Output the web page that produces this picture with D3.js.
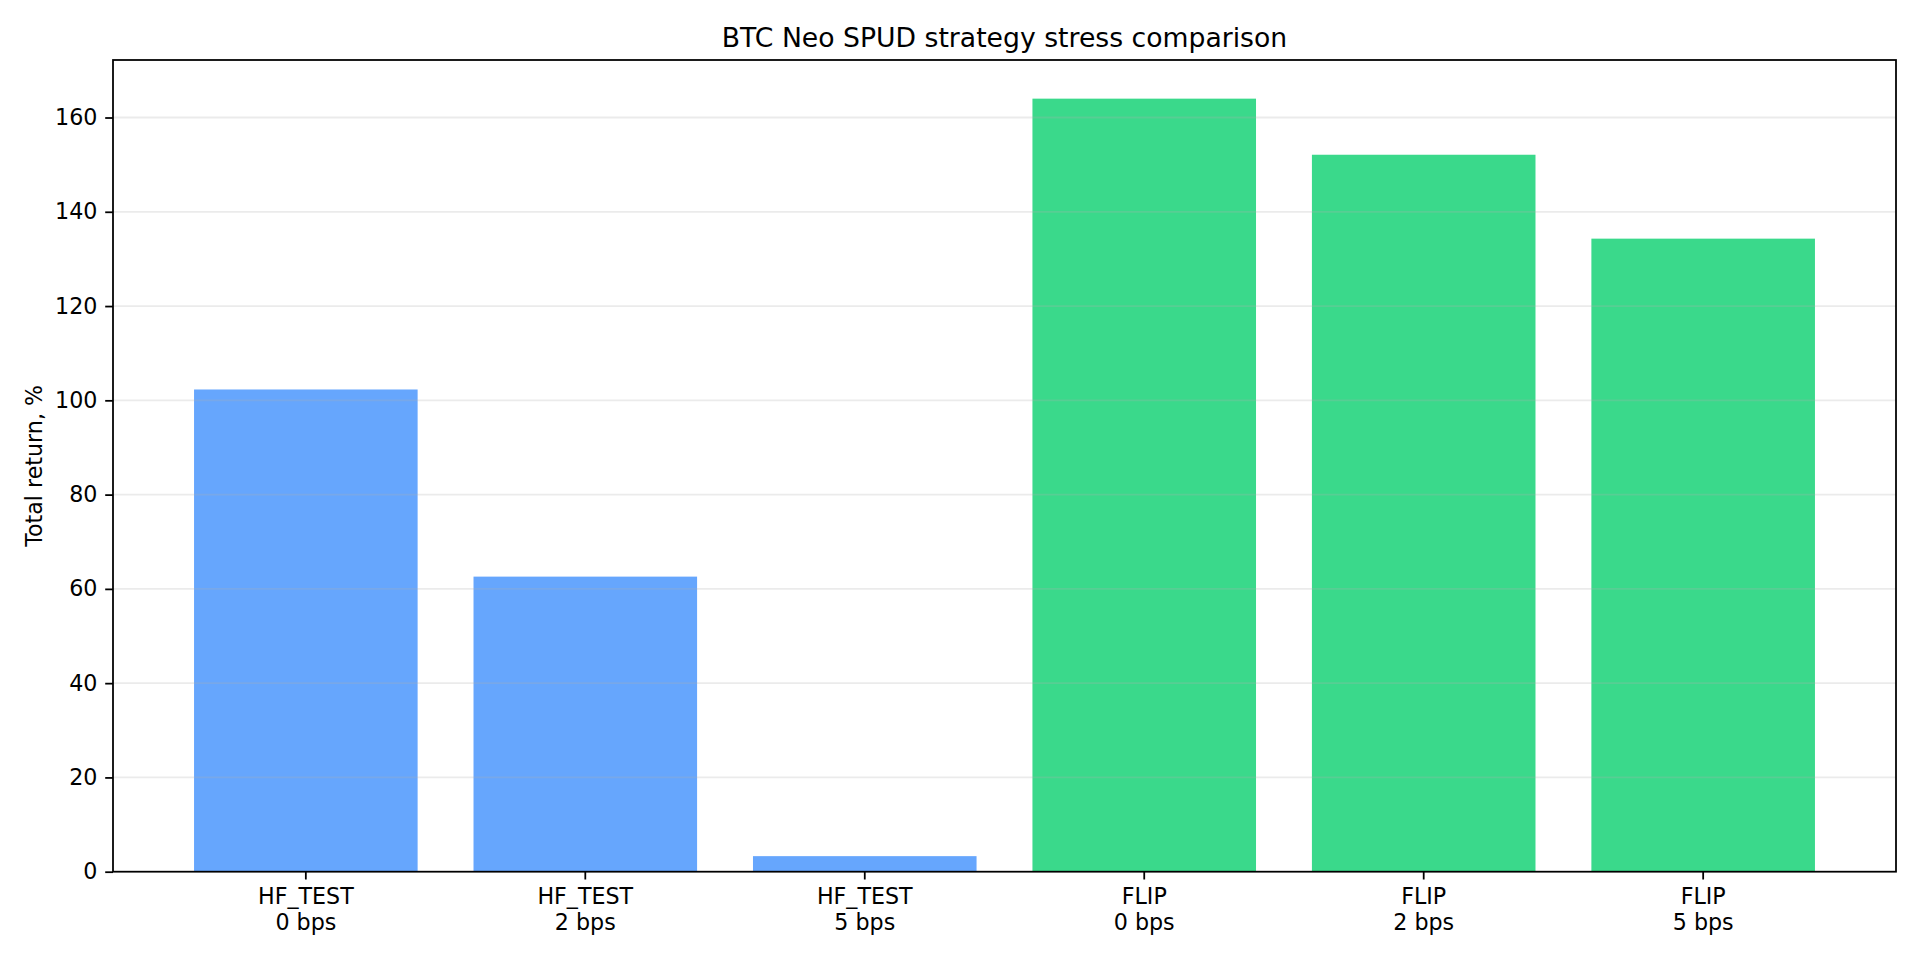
<!DOCTYPE html>
<html>
<head>
<meta charset="utf-8">
<script src="https://cdn.jsdelivr.net/npm/d3@7"></script>
<style>
    body { margin: 0; background: #fff; }
    svg text { font-family: "DejaVu Sans", "Bitstream Vera Sans", sans-serif; }
</style>
</head>
<body>
<div id="chart"></div>
<script>
// Data
const strategies = ["HF_TEST", "HF_TEST", "HF_TEST", "FLIP", "FLIP", "FLIP"];
const costs = ["0 bps", "2 bps", "5 bps", "0 bps", "2 bps", "5 bps"];
const totalReturns = [102.3, 62.6, 3.3, 164.0, 152.1, 134.3];
const yTicks = [0, 20, 40, 60, 80, 100, 120, 140, 160];

const title = "BTC Neo SPUD strategy stress comparison";
const yLabel = "Total return, %";

const colors = { "HF_TEST": "#66a6fd", "FLIP": "#3ad98b" };
const font = "DejaVu Sans";
const tickFont = 22.2;
const lineW = 1.78;
const tickLen = 7.8;

const width = 1920;
const height = 960;
const margin = { top: 60, right: 24, bottom: 88.3, left: 113 };

const data = totalReturns.map((v, i) => ({
    key: i,
    strategy: strategies[i],
    cost: costs[i],
    value: v
}));

const svg = d3.select("#chart")
    .append("svg")
    .attr("width", width)
    .attr("height", height)
    .attr("font-family", font);

const x = d3.scaleBand()
    .domain(data.map(d => d.key))
    .range([margin.left, width - margin.right])
    .paddingInner(0.2)
    .paddingOuter(0.29);

const y = d3.scaleLinear()
    .domain([0, d3.max(totalReturns) * 1.05])
    .range([height - margin.bottom, margin.top]);

// bars
svg.append("g")
    .selectAll("rect")
    .data(data)
    .enter()
    .append("rect")
    .attr("x", d => x(d.key))
    .attr("y", d => y(d.value))
    .attr("width", x.bandwidth())
    .attr("height", d => y(0) - y(d.value))
    .attr("fill", d => colors[d.strategy]);

// grid lines (drawn over the bars, like matplotlib)
svg.append("g")
    .selectAll("line")
    .data(yTicks.filter(t => t > 0))
    .enter()
    .append("line")
    .attr("x1", margin.left)
    .attr("x2", width - margin.right)
    .attr("y1", d => y(d))
    .attr("y2", d => y(d))
    .attr("stroke", "#b0b0b0")
    .attr("stroke-opacity", 0.25)
    .attr("stroke-width", lineW);

// y axis
const yAxis = svg.append("g")
    .attr("transform", `translate(${margin.left},0)`)
    .call(d3.axisLeft(y).tickValues(yTicks).tickSize(tickLen).tickPadding(7.8).tickFormat(d3.format("d")))
    .attr("font-family", font)
    .attr("font-size", tickFont);
yAxis.select(".domain").remove();
yAxis.selectAll(".tick line").attr("stroke", "#000").attr("stroke-width", lineW);
yAxis.selectAll(".tick text").attr("fill", "#000");

// x axis, two-line tick labels
const xAxis = svg.append("g")
    .attr("transform", `translate(0,${height - margin.bottom})`)
    .call(d3.axisBottom(x).tickSize(tickLen).tickFormat(""))
    .attr("font-family", font)
    .attr("font-size", tickFont);
xAxis.select(".domain").remove();
xAxis.selectAll(".tick line").attr("stroke", "#000").attr("stroke-width", lineW);
xAxis.selectAll(".tick text").remove();

const xLabels = xAxis.selectAll(".tick")
    .append("text")
    .attr("fill", "#000")
    .attr("text-anchor", "middle");
xLabels.append("tspan")
    .attr("x", 0)
    .attr("y", 32.5)
    .text(d => strategies[d]);
xLabels.append("tspan")
    .attr("x", 0)
    .attr("y", 58.5)
    .text(d => costs[d]);

// frame
svg.append("rect")
    .attr("x", margin.left)
    .attr("y", margin.top)
    .attr("width", width - margin.left - margin.right)
    .attr("height", height - margin.top - margin.bottom)
    .attr("fill", "none")
    .attr("stroke", "#000")
    .attr("stroke-width", lineW);

// title
svg.append("text")
    .attr("x", (margin.left + width - margin.right) / 2)
    .attr("y", 46.7)
    .attr("text-anchor", "middle")
    .attr("fill", "#000")
    .attr("font-size", 26.67)
    .text(title);

// y label
svg.append("text")
    .attr("transform", `translate(42,${(margin.top + height - margin.bottom) / 2}) rotate(-90)`)
    .attr("text-anchor", "middle")
    .attr("fill", "#000")
    .attr("font-size", tickFont)
    .text(yLabel);
</script>
</body>
</html>
